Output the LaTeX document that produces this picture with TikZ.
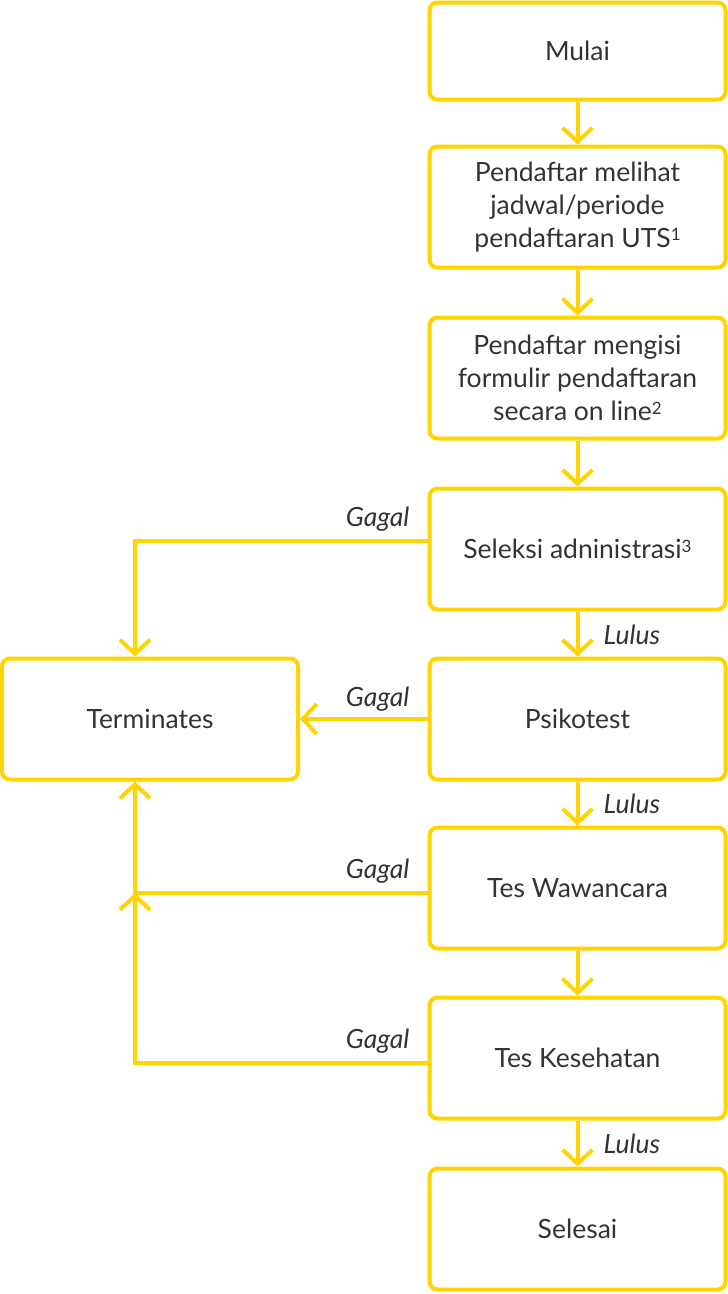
\documentclass[tikz,border=0pt]{standalone}
\usepackage{fontspec}
\setmainfont{Lato}
\usetikzlibrary{arrows.meta,calc}
\definecolor{ylw}{HTML}{FFD400}
\definecolor{txt}{HTML}{333333}
\newcommand{\supr}[1]{\raisebox{6.5pt}{\fontsize{17}{17}\selectfont #1}}
\begin{document}
\begin{tikzpicture}[x=1pt,y=-1pt,
  box/.style={draw=ylw, line width=4pt, rounded corners=8pt, minimum width=296pt, minimum height=121pt, align=center, text=txt, font=\fontsize{26.5}{33}\selectfont, inner sep=0pt},
  arr/.style={draw=ylw, line width=4pt, -{Straight Barb[length=14pt,width=30pt,line width=4pt]}},
  lbl/.style={text=txt, font=\fontsize{26.5}{30}\selectfont\itshape, inner sep=0pt}]
\useasboundingbox (0,0) rectangle (728,1294);
\node[box, minimum height=97pt] (m) at (577.5,51) {Mulai};
\node[box] (b2) at (577.5,207) {Pendaftar melihat\\jadwal/periode\\pendaftaran UTS\supr{1}};
\node[box] (b3) at (577.5,378) {Pendaftar mengisi\\formulir pendaftaran\\secara on line\supr{2}};
\node[box] (b4) at (577.5,549) {Seleksi adninistrasi\supr{3}};
\node[box] (p) at (577.5,719) {Psikotest};
\node[box] (w) at (577.5,888) {Tes Wawancara};
\node[box] (k) at (577.5,1058) {Tes Kesehatan};
\node[box] (s) at (577.5,1229) {Selesai};
\node[box] (t) at (150,719) {Terminates};
\draw[arr] (m) -- (b2);
\draw[arr] (b2) -- (b3);
\draw[arr] (b3) -- (b4);
\draw[arr] (b4) -- (p);
\draw[arr] (p) -- (w);
\draw[arr] (w) -- (k);
\draw[arr] (k) -- (s);
\coordinate (b4l) at ([yshift=8pt]b4.west);
\coordinate (wl) at ([yshift=-5pt]w.west);
\coordinate (kl) at ([yshift=-5pt]k.west);
\coordinate (j) at ([xshift=-15pt]t.south |- wl);
\draw[arr] (b4l) -| ([xshift=-15pt]t.north);
\draw[arr] (p) -- (t);
\draw[arr] (wl) -| ([xshift=-15pt]t.south);
\draw[arr] (kl) -| (j);
\node[lbl, anchor=base east] (g1) at ([xshift=-18pt,yshift=15pt]b4l) {Gagal};
\node[lbl, anchor=base east] (g2) at ([xshift=-18pt,yshift=13pt]p.west) {Gagal};
\node[lbl, anchor=base east] (g3) at ([xshift=-18pt,yshift=15pt]wl) {Gagal};
\node[lbl, anchor=base east] (g4) at ([xshift=-18pt,yshift=15pt]kl) {Gagal};
\node[lbl, anchor=base west] (l1) at ($(b4.south)!0.5!(p.north)+(26,10)$) {Lulus};
\node[lbl, anchor=base west] (l2) at ($(p.south)!0.5!(w.north)+(26,10)$) {Lulus};
\node[lbl, anchor=base west] (l3) at ($(k.south)!0.5!(s.north)+(26,10)$) {Lulus};
\end{tikzpicture}
\end{document}
